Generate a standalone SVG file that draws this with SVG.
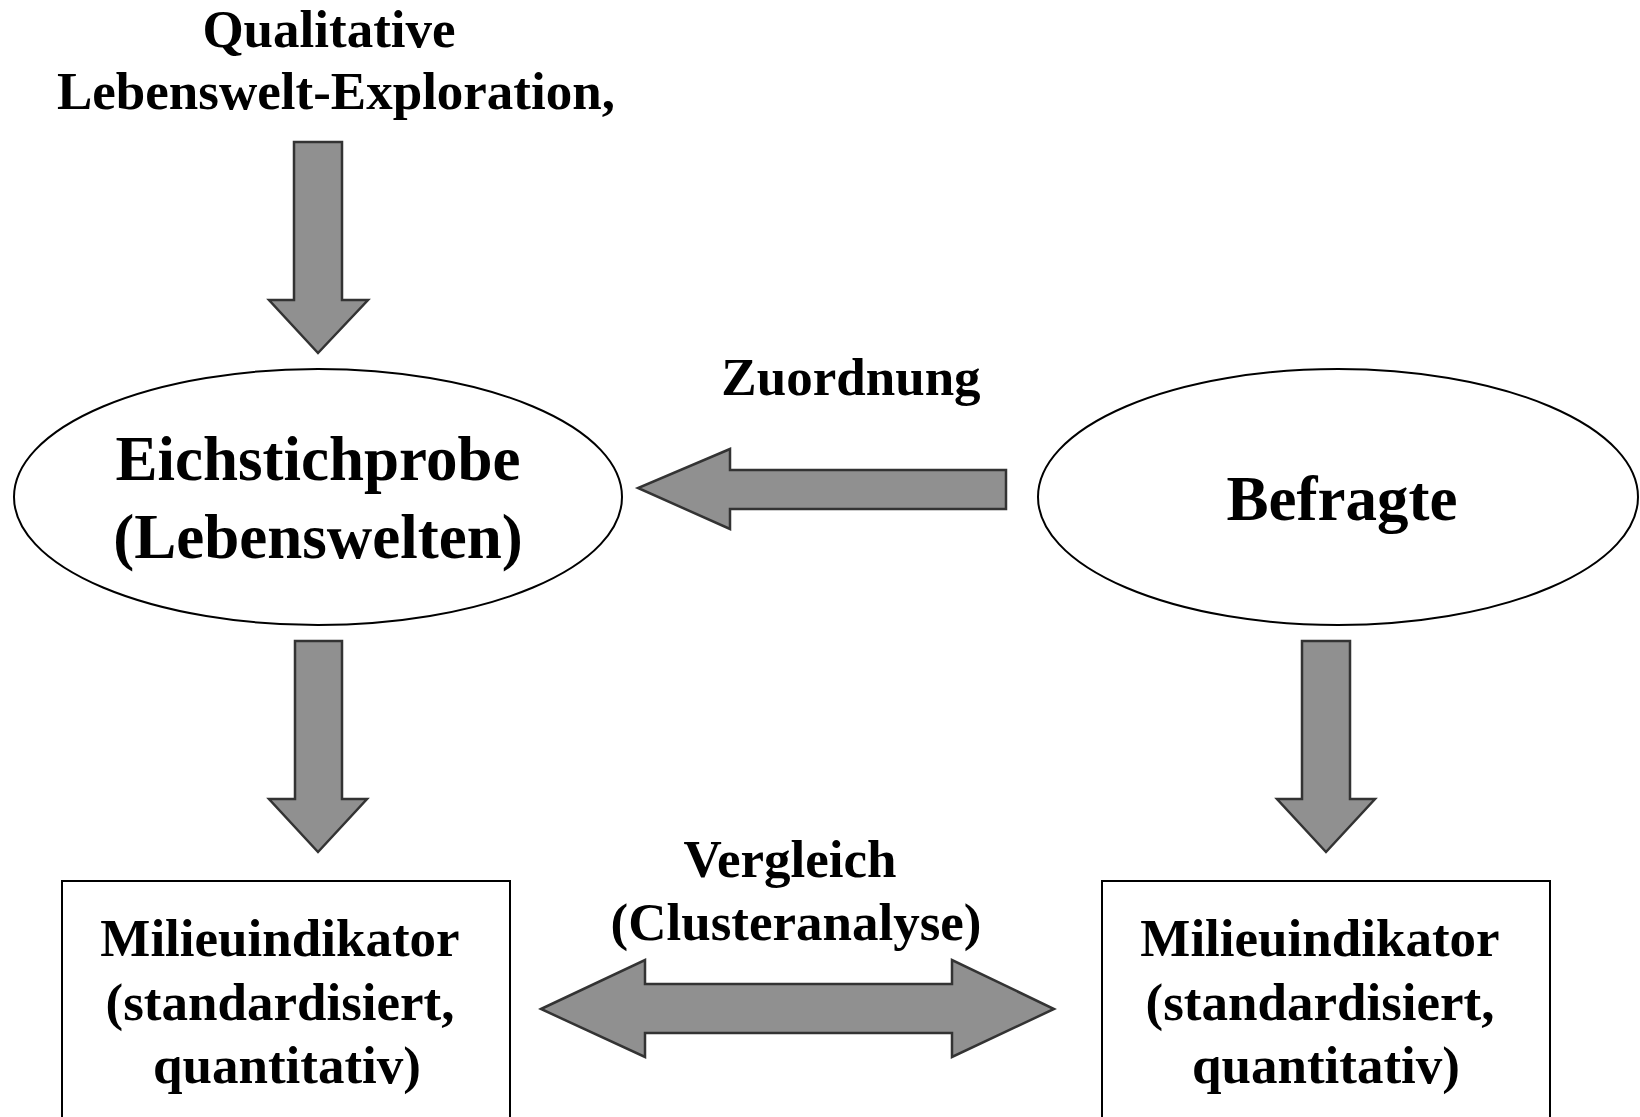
<svg xmlns="http://www.w3.org/2000/svg" width="1640" height="1117" viewBox="0 0 1640 1117">
<style>
text{font-family:"Liberation Serif","Times New Roman",serif;font-weight:bold;fill:#000;text-anchor:middle}
.lbl{font-size:53px}
.big{font-size:63px}
.node{fill:#fff;stroke:#000;stroke-width:2}
.arr{fill:#909090;stroke:#333;stroke-width:2.5;stroke-linejoin:miter}
</style>
<rect width="1640" height="1117" fill="#fff"/>
<g id="label-top">
<text class="lbl" x="329" y="47">Qualitative</text>
<text class="lbl" x="336" y="109">Lebenswelt-Exploration,</text>
</g>
<g id="eichstichprobe">
<ellipse class="node" cx="318" cy="497" rx="304" ry="128"/>
<text class="big" x="318" y="480">Eichstichprobe</text>
<text class="big" x="318" y="558">(Lebenswelten)</text>
</g>
<g id="befragte">
<ellipse class="node" cx="1338" cy="497" rx="300" ry="128"/>
<text class="big" x="1342" y="520">Befragte</text>
</g>
<g id="milieu-left">
<rect class="node" x="62" y="881" width="448" height="250"/>
<text class="lbl" x="280" y="956">Milieuindikator</text>
<text class="lbl" x="280" y="1020">(standardisiert,</text>
<text class="lbl" x="287" y="1083">quantitativ)</text>
</g>
<g id="milieu-right">
<rect class="node" x="1102" y="881" width="448" height="250"/>
<text class="lbl" x="1320" y="956">Milieuindikator</text>
<text class="lbl" x="1320" y="1020">(standardisiert,</text>
<text class="lbl" x="1326" y="1083">quantitativ)</text>
</g>
<g id="connectors">
<polygon class="arr" points="294,142 342,142 342,300 368,300 318,353 269,300 294,300"/>
<polygon class="arr" points="1006,470 1006,509 730,509 730,529 638,488 730,449 730,470"/>
<text class="lbl" x="851" y="395">Zuordnung</text>
<polygon class="arr" points="295,641 342,641 342,799 367,799 318,852 269,799 295,799"/>
<polygon class="arr" points="1302,641 1350,641 1350,799 1375,799 1326,852 1277,799 1302,799"/>
<polygon class="arr" points="541,1009 645,960 645,984 952,984 952,960 1054,1009 952,1057 952,1033 645,1033 645,1057"/>
<text class="lbl" x="790" y="877">Vergleich</text>
<text class="lbl" x="796" y="940">(Clusteranalyse)</text>
</g>
</svg>
